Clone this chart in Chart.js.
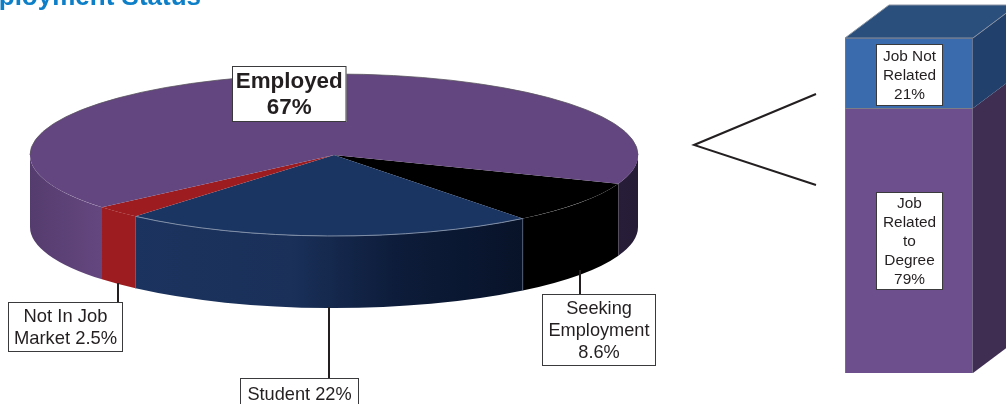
<!DOCTYPE html>
<html>
<head>
<meta charset="utf-8">
<title>Employment Status</title>
<script src="https://cdn.jsdelivr.net/npm/chart.js@4"></script>
<style>
  html, body { margin: 0; padding: 0; background: #fff; overflow: hidden; }
  #wrap { position: relative; width: 1006px; height: 404px; overflow: hidden; }
  canvas { position: absolute; left: 0; top: 0; }
</style>
</head>
<body>
<div id="wrap">
  <canvas id="pie" width="1006" height="404"></canvas>
  <canvas id="bar" width="1006" height="404"></canvas>
</div>
<script>
const pieLabels = ['Seeking Employment', 'Student', 'Not In Job Market', 'Employed'];
const pieValues = [8.6, 22, 2.5, 67];
const barLabels = ['Job Related to Degree', 'Job Not Related'];
const barValues = [79, 21];
const TITLE = 'Employment Status';

const FONT = '"Liberation Sans", Arial, sans-serif';
const TEXT_COLOR = '#231f20';
const pieColors = ['#000000', '#1b3562', '#9c1c20', '#63467f'];
const barColors = ['#6d4f8e', '#3a6cad'];
const barSideColors = ['#3f2d52', '#22406c'];
const barTopColor = '#2a4f7c';

// pie placement on the page
const PIE_X = 334;
const PIE_Y = 155;
const PIE_RX = 304;
const PIE_RY = 81;
const PIE_DEPTH = 72;
const BAR_DX = 44;
const BAR_DY = -33;

// gradient stops for the visible wall of each slice, left to right across the pie
const pieWalls = [
  [[0, '#000000'], [1, '#000000']],
  [[0, '#1b3562'], [0.43, '#1a3059'], [0.6, '#0d1c3a'], [0.81, '#081329']],
  [[0, '#9c1c20'], [1, '#9c1c20']],
  [[0, '#553c6e'], [0.12, '#64477f'], [0.2, '#64477f'], [0.9, '#2b1f3d'], [1, '#261c36']],
];

const pieBoxes = [
  { x: 542, y: 294, w: 114, h: 72, lines: ['Seeking', 'Employment', '8.6%'], size: 18.2, lead: 22, stem: [580, 270, 294] },
  { x: 240, y: 378, w: 119, h: 32, lines: ['Student 22%'], size: 18.2, lead: 22, stem: [329, 307, 378] },
  { x: 8, y: 302, w: 115, h: 50, lines: ['Not In Job', 'Market 2.5%'], size: 18.4, lead: 22, stem: [118, 283, 302] },
  { x: 232, y: 66, w: 114.5, h: 56, lines: ['Employed', '67%'], size: 22.4, lead: 26, bold: true },
];

const barBoxes = [
  { x: 876, y: 192, w: 67, h: 98, lines: ['Job', 'Related', 'to', 'Degree', '79%'], size: 15.4, lead: 19 },
  { x: 876, y: 44, w: 67, h: 62, lines: ['Job Not', 'Related', '21%'], size: 15.4, lead: 19 },
];

function drawBox(ctx, box) {
  ctx.fillStyle = '#ffffff';
  ctx.fillRect(box.x, box.y, box.w, box.h);
  ctx.strokeStyle = '#3a3a3c';
  ctx.lineWidth = 1;
  ctx.strokeRect(box.x + 0.5, box.y + 0.5, box.w - 1, box.h - 1);
  ctx.fillStyle = TEXT_COLOR;
  ctx.font = (box.bold ? 'bold ' : '') + box.size + 'px ' + FONT;
  ctx.textAlign = 'center';
  ctx.textBaseline = 'middle';
  const top = box.y + box.h / 2 - (box.lead * (box.lines.length - 1)) / 2;
  box.lines.forEach((line, i) => {
    ctx.fillText(line, box.x + box.w / 2, top + i * box.lead + 1);
  });
}

function line(ctx, points, color, width) {
  ctx.beginPath();
  points.forEach((p, i) => (i ? ctx.lineTo(p[0], p[1]) : ctx.moveTo(p[0], p[1])));
  ctx.strokeStyle = color;
  ctx.lineWidth = width;
  ctx.stroke();
}

function drawWall(ctx, arc, i) {
  const gradient = ctx.createLinearGradient(PIE_X - PIE_RX, 0, PIE_X + PIE_RX, 0);
  pieWalls[i].forEach(s => gradient.addColorStop(s[0], s[1]));
  // only the front half of the drum shows
  [0, 2 * Math.PI].forEach(turn => {
    const from = Math.max(arc.startAngle, turn);
    const to = Math.min(arc.endAngle, turn + Math.PI);
    if (to <= from) return;
    ctx.beginPath();
    ctx.ellipse(PIE_X, PIE_Y, PIE_RX, PIE_RY, 0, from, to);
    ctx.ellipse(PIE_X, PIE_Y + PIE_DEPTH, PIE_RX, PIE_RY, 0, to, from, true);
    ctx.closePath();
    ctx.fillStyle = gradient;
    ctx.fill();
  });
}

const squashPlugin = {
  id: 'squash',
  beforeDatasetsDraw(chart) {
    const ctx = chart.ctx;
    const arcs = chart.getDatasetMeta(0).data;
    arcs.forEach((arc, i) => drawWall(ctx, arc, i));
    const r = arcs[0].outerRadius;
    ctx.save();
    ctx.translate(PIE_X, PIE_Y);
    ctx.scale(PIE_RX / r, PIE_RY / r);
    ctx.translate(-arcs[0].x, -arcs[0].y);
  },
  afterDatasetsDraw(chart) {
    const ctx = chart.ctx;
    ctx.restore();
    const arcs = chart.getDatasetMeta(0).data;

    // rim and seams
    ctx.beginPath();
    ctx.ellipse(PIE_X, PIE_Y, PIE_RX, PIE_RY, 0, Math.PI, 2 * Math.PI);
    ctx.strokeStyle = '#5a5560';
    ctx.lineWidth = 0.8;
    ctx.stroke();
    const student = arcs[1];
    ctx.beginPath();
    ctx.ellipse(PIE_X, PIE_Y, PIE_RX, PIE_RY, 0, student.startAngle, student.endAngle);
    ctx.strokeStyle = '#7f8ea6';
    ctx.lineWidth = 1;
    ctx.stroke();
    [student.startAngle, student.endAngle].forEach(a => {
      const x = PIE_X + PIE_RX * Math.cos(a);
      const y = PIE_Y + PIE_RY * Math.sin(a);
      line(ctx, [[x, y], [x, y + PIE_DEPTH]], '#55617a', 0.8);
    });

    // pointers from the slices to their labels
    pieBoxes.filter(b => b.stem).forEach(b => {
      line(ctx, [[b.stem[0], b.stem[1]], [b.stem[0], b.stem[2]]], '#231f20', 2);
    });
    pieBoxes.forEach(b => drawBox(ctx, b));

    // breakout arrow toward the column
    line(ctx, [[816, 94], [694, 145], [816, 185]], '#231f20', 2);

    ctx.font = 'bold 26px ' + FONT;
    ctx.fillStyle = '#0c7fc8';
    ctx.textAlign = 'right';
    ctx.textBaseline = 'alphabetic';
    ctx.fillText(TITLE, 201, 4.5);
  },
};

const columnPlugin = {
  id: 'column',
  beforeDatasetsDraw(chart) {
    const ctx = chart.ctx;
    chart.data.datasets.forEach((ds, i) => {
      const bar = chart.getDatasetMeta(i).data[0];
      const right = bar.x + bar.width / 2;
      ctx.beginPath();
      ctx.moveTo(right, bar.y);
      ctx.lineTo(right + BAR_DX, bar.y + BAR_DY);
      ctx.lineTo(right + BAR_DX, bar.base + BAR_DY);
      ctx.lineTo(right, bar.base);
      ctx.closePath();
      ctx.fillStyle = barSideColors[i];
      ctx.fill();
    });
    const last = chart.getDatasetMeta(chart.data.datasets.length - 1).data[0];
    const left = last.x - last.width / 2;
    const right = last.x + last.width / 2;
    ctx.beginPath();
    ctx.moveTo(left, last.y);
    ctx.lineTo(left + BAR_DX, last.y + BAR_DY);
    ctx.lineTo(right + BAR_DX, last.y + BAR_DY);
    ctx.lineTo(right, last.y);
    ctx.closePath();
    ctx.fillStyle = barTopColor;
    ctx.fill();
    ctx.strokeStyle = '#8a93a3';
    ctx.lineWidth = 1;
    ctx.stroke();
  },
  afterDatasetsDraw(chart) {
    barBoxes.forEach(b => drawBox(chart.ctx, b));
  },
};

new Chart(document.getElementById('pie'), {
  type: 'pie',
  data: {
    labels: pieLabels,
    datasets: [{ data: pieValues, backgroundColor: pieColors, borderWidth: 0, hoverOffset: 0 }],
  },
  options: {
    responsive: false,
    animation: false,
    rotation: 110.7,
    layout: { padding: 0 },
    plugins: { legend: { display: false }, tooltip: { enabled: false } },
  },
  plugins: [squashPlugin],
});

new Chart(document.getElementById('bar'), {
  type: 'bar',
  data: {
    labels: ['Employed'],
    datasets: barLabels.map((label, i) => ({
      label: label,
      data: [barValues[i]],
      backgroundColor: barColors[i],
      borderColor: '#7d7d88',
      borderWidth: 1,
      barPercentage: 1,
      categoryPercentage: 1,
    })),
  },
  options: {
    responsive: false,
    animation: false,
    layout: { padding: { left: 845, right: 33, top: 38, bottom: 31 } },
    scales: {
      x: { stacked: true, display: false },
      y: { stacked: true, display: false, min: 0, max: 100 },
    },
    plugins: { legend: { display: false }, tooltip: { enabled: false } },
  },
  plugins: [columnPlugin],
});
</script>
</body>
</html>
